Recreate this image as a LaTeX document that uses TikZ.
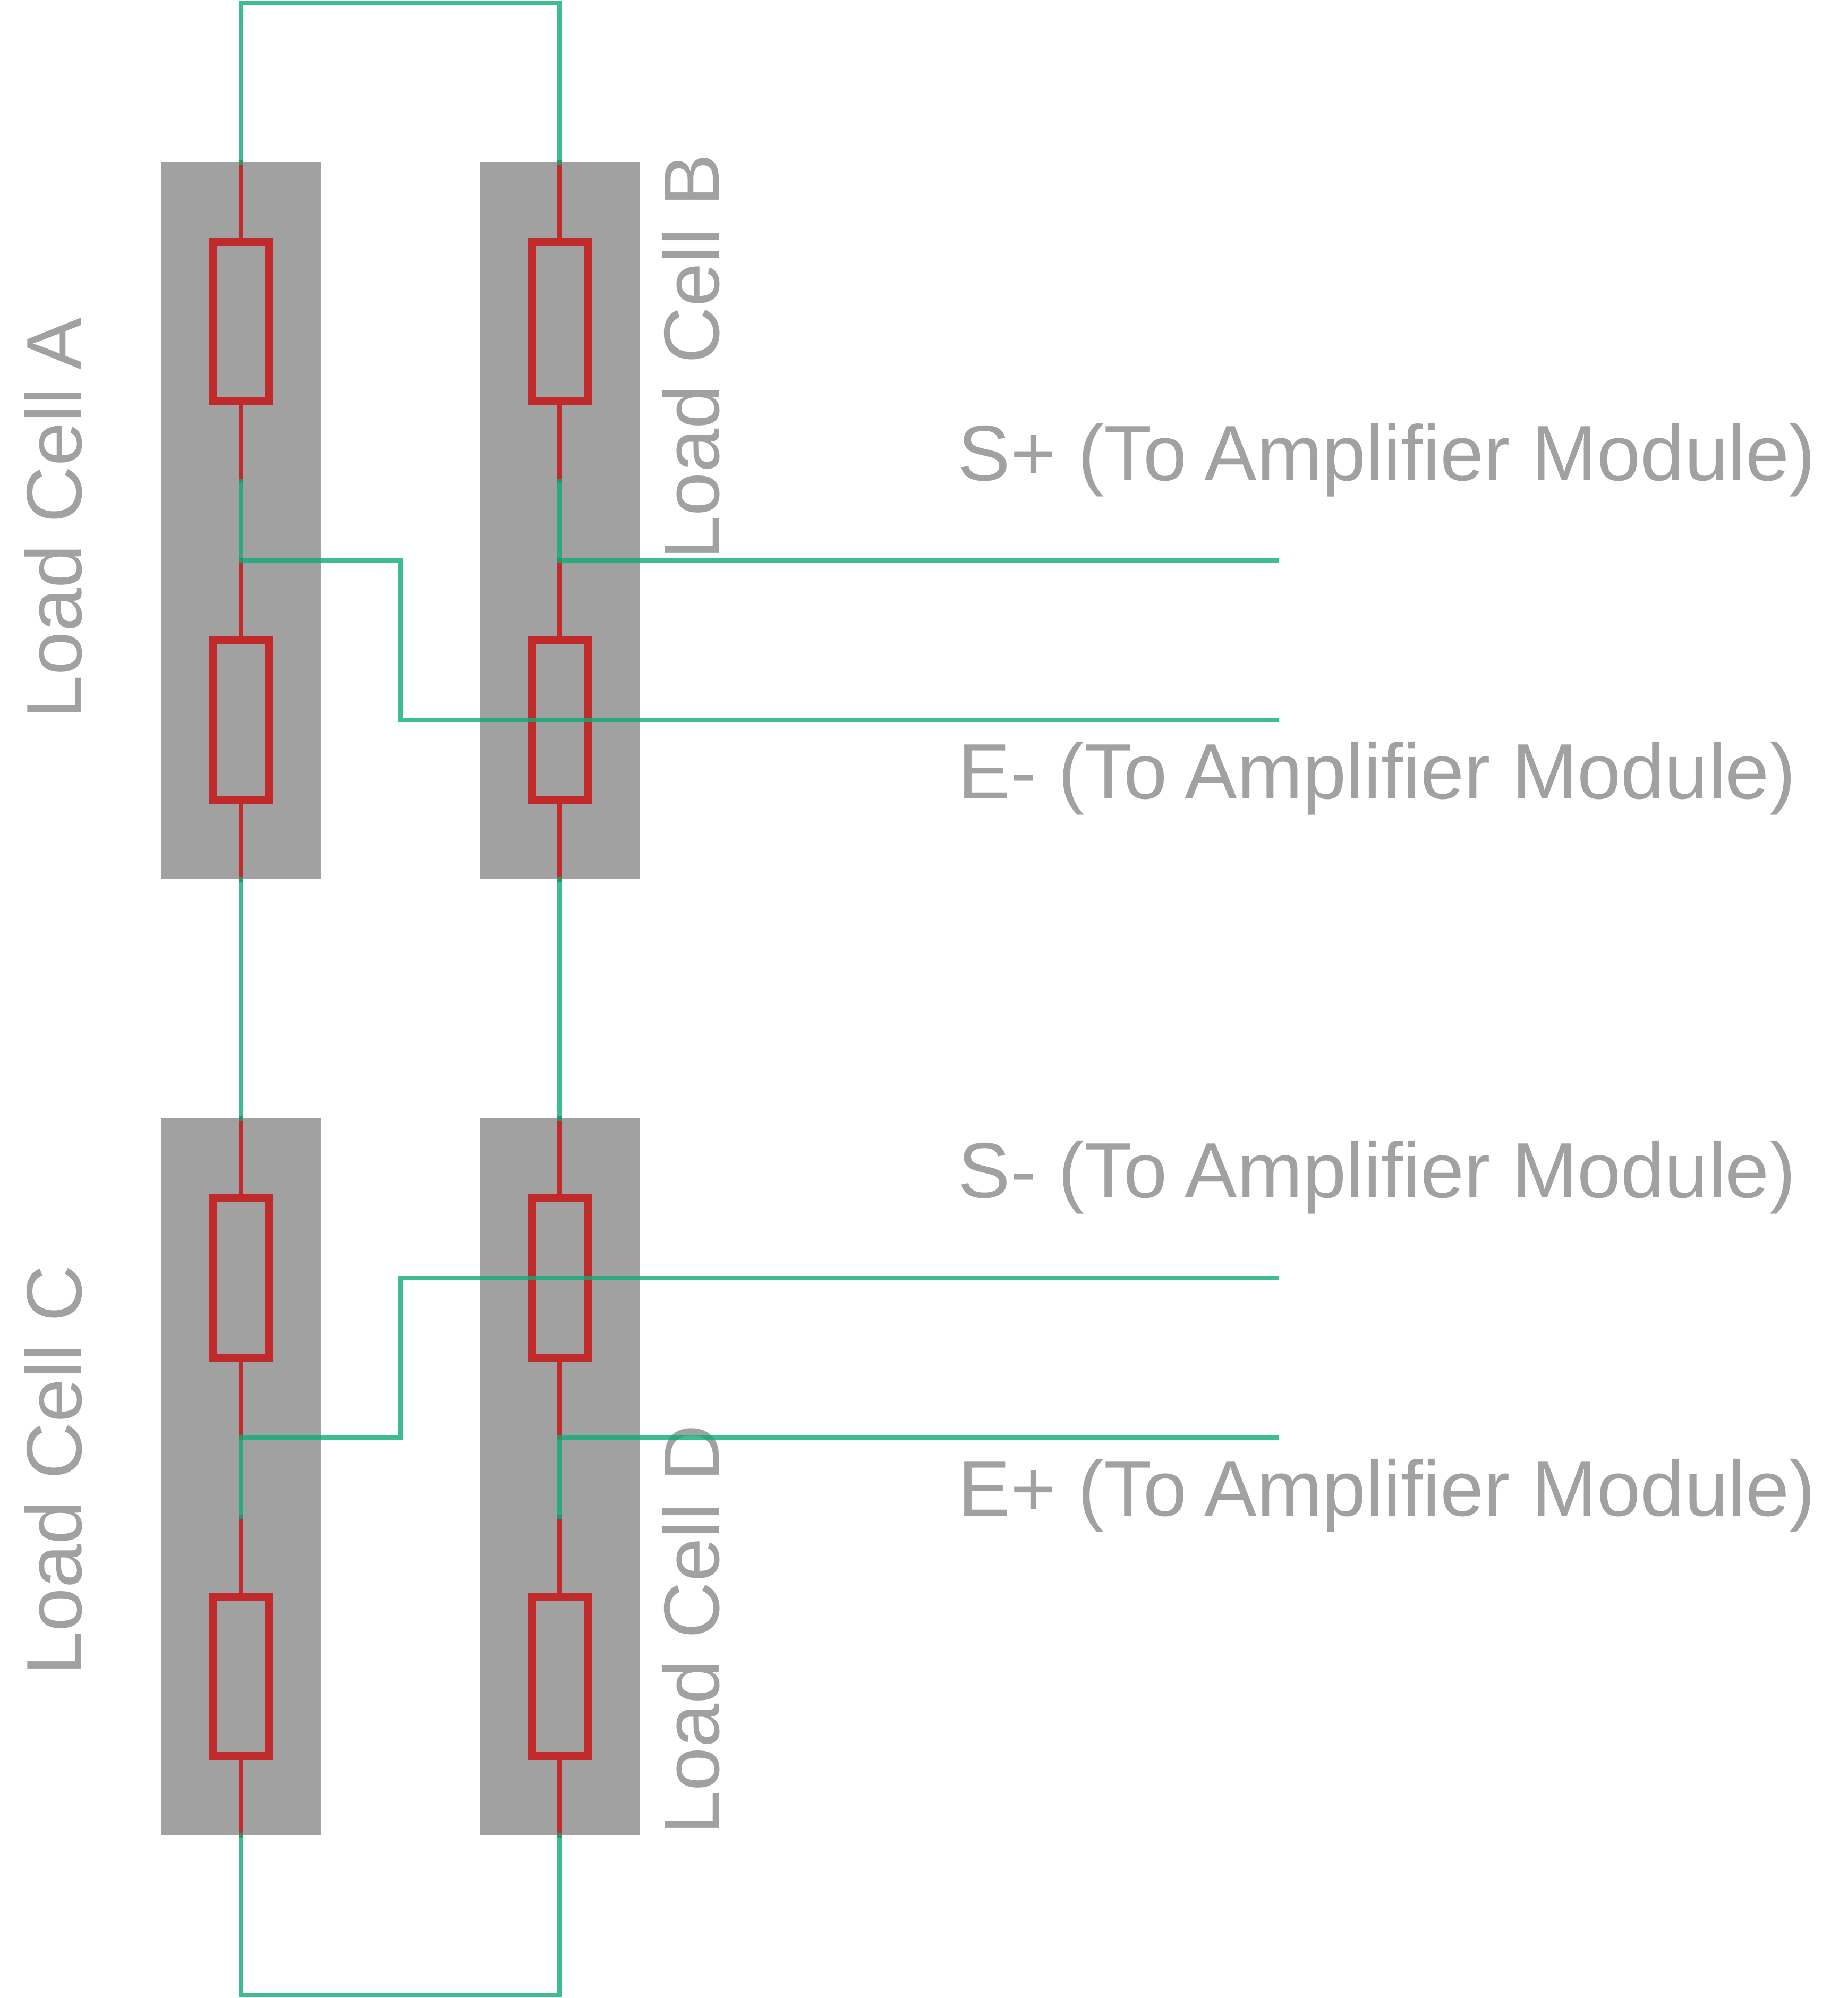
\documentclass[tikz,border=0pt]{standalone}
\usepackage{fontspec}
\setmainfont{Liberation Sans}
\definecolor{cellgray}{HTML}{A1A1A1}
\definecolor{gaugered}{HTML}{C02A2A}
\definecolor{wiregreen}{RGB}{14,171,120}
\tikzset{
  cellbox/.style={rectangle,fill=cellgray,draw=none,inner sep=0,outer sep=0,minimum width=3.01cm,minimum height=13.5cm},
  gauge/.style={rectangle,draw=gaugered,line width=0.15cm,inner sep=0,outer sep=0,minimum width=1.05cm,minimum height=3cm},
  redwire/.style={draw=gaugered,line width=0.09cm,line cap=rect},
  greenwire/.style={draw=wiregreen,draw opacity=0.8,line width=0.09cm,line cap=rect,line join=miter},
  celltext/.style={text=cellgray,inner sep=0,anchor=base west,rotate=90,font=\fontsize{42.05}{48}\selectfont},
  modtext/.style={text=cellgray,inner sep=0,anchor=base west,font=\fontsize{42.05}{48}\selectfont}
}
\begin{document}
\begin{tikzpicture}
    \useasboundingbox (0,0) rectangle (34.79,37.61);

    % Cell bodies
    \node [cellbox] (cella) at (4.535,27.805) {};
    \node [cellbox] (cellb) at (10.535,27.805) {};
    \node [cellbox] (cellc) at (4.535,9.805) {};
    \node [cellbox] (celld) at (10.535,9.805) {};

    % Cell names
    \node [celltext] (namea) at (1.535,24.065) {Load Cell\kern-0.055em{} A};
    \node [celltext] (nameb) at (13.535,27.065) {Load Cell B};
    \node [celltext] (namec) at (1.535,6.065) {Load Cell C};
    \node [celltext] (named) at (13.535,3.065) {Load Cell D};

    % Gauges
    \node [gauge] (gaugea1) at (4.535,31.555) {};
    \node [gauge] (gaugea2) at (4.535,24.055) {};
    \node [gauge] (gaugeb1) at (10.535,31.555) {};
    \node [gauge] (gaugeb2) at (10.535,24.055) {};
    \node [gauge] (gaugec1) at (4.535,13.555) {};
    \node [gauge] (gaugec2) at (4.535,6.055) {};
    \node [gauge] (gauged1) at (10.535,13.555) {};
    \node [gauge] (gauged2) at (10.535,6.055) {};

    % Points on the wires
    \coordinate (topa) at (4.535,37.555);
    \coordinate (topb) at (10.535,37.555);
    \coordinate (enda) at (4.535,28.555);
    \coordinate (endb) at (10.535,28.555);
    \coordinate (joina) at (4.535,27.055);
    \coordinate (joinb) at (10.535,27.055);
    \coordinate (benda1) at (7.535,27.055);
    \coordinate (benda2) at (7.535,24.055);
    \coordinate (outs) at (24.035,27.055);
    \coordinate (oute) at (24.035,24.055);
    \coordinate (bendc1) at (7.535,10.555);
    \coordinate (bendc2) at (7.535,13.555);
    \coordinate (joinc) at (4.535,10.555);
    \coordinate (joind) at (10.535,10.555);
    \coordinate (endc) at (4.535,9.055);
    \coordinate (endd) at (10.535,9.055);
    \coordinate (outsm) at (24.035,13.555);
    \coordinate (outep) at (24.035,10.555);
    \coordinate (lowc) at (4.535,0.055);
    \coordinate (lowd) at (10.535,0.055);

    % Red leads of cell A
    \draw [redwire] (cella.north) -- (gaugea1.north);
    \draw [redwire] (gaugea1.south) -- (enda);
    \draw [redwire] (joina) -- (gaugea2.north);
    \draw [redwire] (gaugea2.south) -- (cella.south);

    % Red leads of cell B
    \draw [redwire] (cellb.north) -- (gaugeb1.north);
    \draw [redwire] (gaugeb1.south) -- (endb);
    \draw [redwire] (joinb) -- (gaugeb2.north);
    \draw [redwire] (gaugeb2.south) -- (cellb.south);

    % Red leads of cell C
    \draw [redwire] (cellc.north) -- (gaugec1.north);
    \draw [redwire] (gaugec1.south) -- (joinc);
    \draw [redwire] (endc) -- (gaugec2.north);
    \draw [redwire] (gaugec2.south) -- (cellc.south);

    % Red leads of cell D
    \draw [redwire] (celld.north) -- (gauged1.north);
    \draw [redwire] (gauged1.south) -- (joind);
    \draw [redwire] (endd) -- (gauged2.north);
    \draw [redwire] (gauged2.south) -- (celld.south);

    % Green wires between the cells
    \draw [greenwire] (cella.north) -- (topa) -- (topb) -- (cellb.north);
    \draw [greenwire] (cella.south) -- (cellc.north);
    \draw [greenwire] (cellb.south) -- (celld.north);
    \draw [greenwire] (cellc.south) -- (lowc) -- (lowd) -- (celld.south);

    % Green wires to the module
    \draw [greenwire] (enda) -- (joina) -- (benda1) -- (benda2) -- (oute);
    \draw [greenwire] (endb) -- (joinb) -- (outs);
    \draw [greenwire] (endc) -- (joinc) -- (bendc1) -- (bendc2) -- (outsm);
    \draw [greenwire] (endd) -- (joind) -- (outep);

    % Module labels
    \node [modtext] (labelsp) at (18.03,28.56) {S+ (To\kern-0.055em{} Amplifier Module)};
    \node [modtext] (labelem) at (18.03,22.57) {E- (To\kern-0.055em{} Amplifier Module)};
    \node [modtext] (labelsm) at (18.03,15.06) {S- (To\kern-0.055em{} Amplifier Module)};
    \node [modtext] (labelep) at (18.03,9.07) {E+ (To\kern-0.055em{} Amplifier Module)};
\end{tikzpicture}
\end{document}
